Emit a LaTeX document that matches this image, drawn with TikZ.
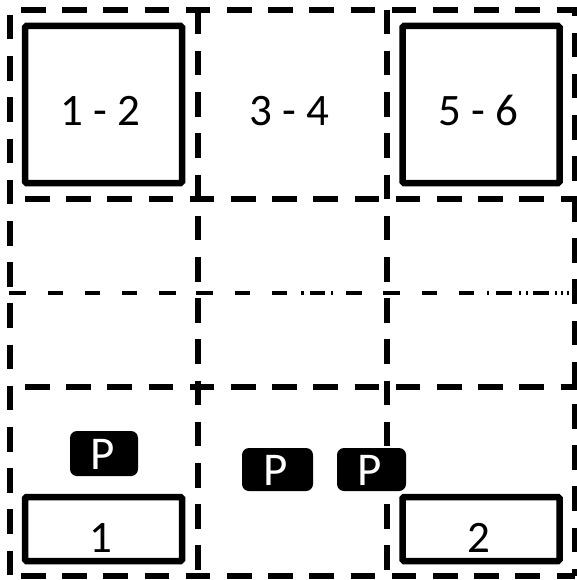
\documentclass[tikz,border=0pt]{standalone}
\usepackage{fontspec}
\setmainfont{Carlito}
\tikzset{
  heavydash/.style={line width=6.8pt,draw=black,dash pattern=on 24.5pt off 16.7pt},
  thinbar/.style={line width=3.2pt,draw=black},
  bay/.style={draw=black,line width=6.5pt,rounded corners=1.5pt,fill=none,inner sep=0pt},
  bigbay/.style={bay,minimum width=157pt,minimum height=157pt},
  lowbay/.style={bay,minimum width=157pt,minimum height=64pt},
  lbl/.style={anchor=base,inner sep=0pt,font=\fontsize{45}{45}\selectfont},
  pbadge/.style={fill=black,draw=none,rounded corners=7pt,inner sep=0pt},
  ptext/.style={anchor=base,inner sep=0pt,text=white,font=\fontsize{47}{47}\selectfont}
}
\begin{document}
\begin{tikzpicture}[x=1pt,y=-1pt]
\useasboundingbox[fill=white] (0,0) rectangle (577,580);
% outer and grid dashed lines
\draw[heavydash] (21,10) -- (575,10) -- (575,190);
\draw[heavydash] (575,197) -- (575,390);
\draw[heavydash] (575,404) -- (575,576);
\draw[heavydash] (21,576) -- (575,576);
\draw[heavydash] (10,15) -- (10,576);
\draw[heavydash] (25,199) -- (578,199);
\draw[heavydash] (25,387) -- (578,387);
\draw[heavydash] (198,9.8) -- (198,572);
\draw[heavydash] (387,9.8) -- (387,572);
% centre line
\foreach \a/\b in {9/26,48/63,85/100,122/137,159/176,196/213,235/250,272/287,301/304,310/325,331/333,346/362,383/400,422/437,459/474,487/489,496/512,519/521,526/528,533/549,555/557,561/563,567/569}
  \draw[thinbar] (\a,293) -- (\b,293);
% boxes
\node[bigbay] (boxA) at (103.5,104.5) {};
\node[bigbay] (boxB) at (481,104.5) {};
\node[lowbay] (boxC) at (103.5,529) {};
\node[lowbay] (boxD) at (481,529) {};
% labels
\node[lbl] (t12) at (100.5,126) {1 - 2};
\node[lbl] (t34) at (289,126) {3 - 4};
\node[lbl] (t56) at (478.5,126) {5 - 6};
\node[lbl] (t1) at (101,552) {1};
\node[lbl] (t2) at (479,552) {2};
% P badges
\node[pbadge,minimum width=68pt,minimum height=45pt] (p1) at (104,453.5) {};
\node[pbadge,minimum width=71pt,minimum height=43pt] (p2) at (277.5,469.5) {};
\node[pbadge,minimum width=69pt,minimum height=43pt] (p3) at (371.5,469.5) {};
\node[ptext] (pt1) at (103,469) {P};
\node[ptext] (pt2) at (276,485) {P};
\node[ptext] (pt3) at (370,485) {P};
\end{tikzpicture}
\end{document}
